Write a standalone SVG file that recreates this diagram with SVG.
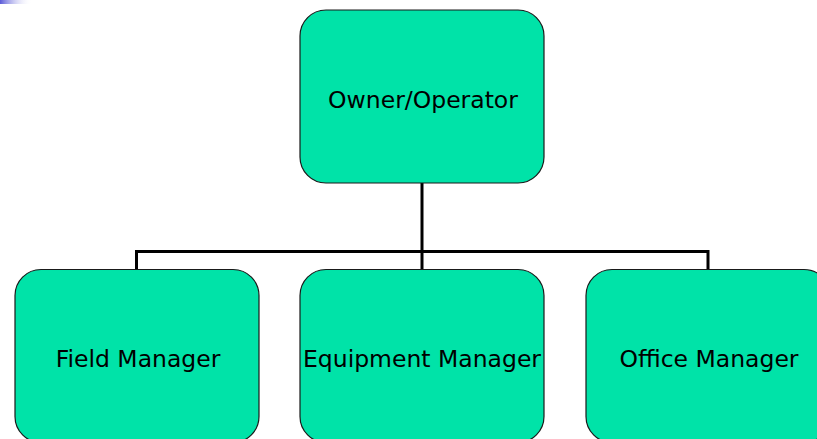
<svg xmlns="http://www.w3.org/2000/svg" width="817" height="439" viewBox="0 0 817 439">
  <defs>
    <linearGradient id="cornerFade" x1="0" y1="0" x2="1" y2="0">
      <stop offset="0" stop-color="#5a5ad8"/>
      <stop offset="1" stop-color="#ffffff" stop-opacity="0"/>
    </linearGradient>
  </defs>
  <style>
    .box { fill: #00e3a8; stroke: #1a1a1a; stroke-width: 1.2; }
    .label { font-family: "DejaVu Sans", Tahoma, Verdana, sans-serif; font-size: 23.5px; fill: #000000; text-anchor: middle; }
    .link { fill: none; stroke: #000000; stroke-width: 3; }
  </style>
  <rect width="817" height="439" fill="#ffffff"/>
  <rect x="0" y="0" width="32" height="4" fill="url(#cornerFade)"/>

  <g id="connectors">
    <path class="link" d="M422 183 V251.5"/>
    <path class="link" d="M136.5 269 V251.5 H708 V269"/>
    <path class="link" d="M422 251.5 V269"/>
  </g>

  <g id="owner-operator">
    <rect class="box" x="300" y="10" width="244" height="173" rx="26" ry="26"/>
    <text class="label" x="423" y="108">Owner/Operator</text>
  </g>

  <g id="field-manager">
    <rect class="box" x="15" y="269.5" width="244" height="173" rx="26" ry="26"/>
    <text class="label" x="138" y="367">Field Manager</text>
  </g>

  <g id="equipment-manager">
    <rect class="box" x="300" y="269.5" width="244" height="173" rx="26" ry="26"/>
    <text class="label" x="422" y="367">Equipment Manager</text>
  </g>

  <g id="office-manager">
    <rect class="box" x="586" y="269.5" width="244" height="173" rx="26" ry="26"/>
    <text class="label" x="709" y="367">Office Manager</text>
  </g>
</svg>
